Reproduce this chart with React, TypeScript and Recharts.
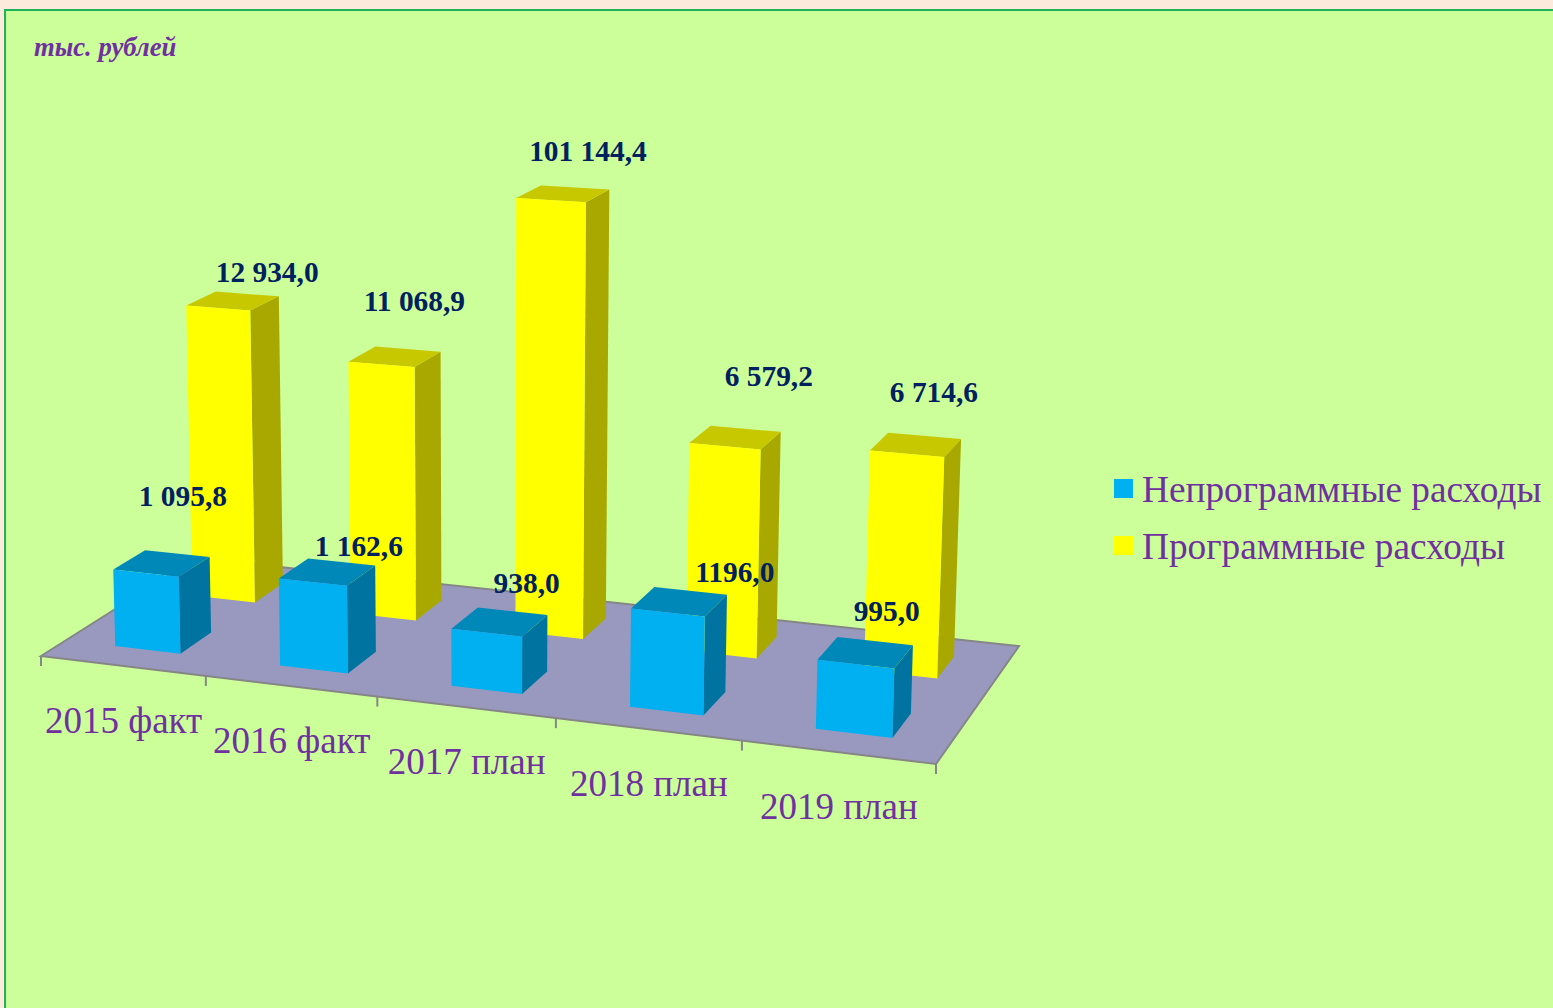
import { Bar, BarChart, Customized, LabelList, Legend, XAxis, YAxis } from "recharts";

const W = 1553;
const H = 1008;

const categories = ["2015 факт", "2016 факт", "2017 план", "2018 план", "2019 план"];

// bar heights: the source chart does not draw them
// in proportion to the printed values, so the printed values are kept apart
const programHeights = [313, 267.5, 447.5, 213.6, 222];
const otherHeights = [80, 89.5, 57.7, 97.5, 67.2];
const programLabels = ["12 934,0", "11 068,9", "101 144,4", "6 579,2", "6 714,6"];
const otherLabels = ["1 095,8", "1 162,6", "938,0", "1196,0", "995,0"];

// hand placed labels in the source, offset from the top of each bar's front face
const programNudge = [[49, -36], [33, -63], [37, -49], [44, -70], [27, -62]];
const otherNudge = [[37, -77], [46, -36], [40, -50], [67, -40], [31, -53]];

const data = categories.map((name, i) => ({
  name,
  program: programHeights[i],
  other: otherHeights[i],
  programLabel: programLabels[i],
  otherLabel: otherLabels[i]
}));

const PURPLE = "#7030A0";
const NAVY = "#002060";
const SERIF = "'Liberation Serif', serif";

const BACK_DEPTH: [number, number] = [0.65, 0.85];
const FRONT_DEPTH: [number, number] = [0.15, 0.35];
const BAR_SHIFT = 0.0012;

// flat chart coordinates -> the tilted floor of the picture
// u along categories, v into the depth, w height in px
function project(u: number, v: number, w: number) {
  const den = -0.09696 * u + 0.09726 * v + 1 - w / 15000;
  const x = (804.25 * u + 174.06 * v + 41 - (488 / 15000) * w) / den;
  const y = (33.92 * u - 43.73 * v + 656 - w) / den;
  return [x, y];
}

function points(list: number[][]) {
  return list.map((p) => p.join(",")).join(" ");
}

function makeBar(depth: [number, number], face: string, top: string, side: string) {
  return function Box3D(props: any) {
    const { x, width, height } = props;
    const u0 = x / W + BAR_SHIFT;
    const u1 = (x + width) / W + BAR_SHIFT;
    const [v0, v1] = depth;
    return (
      <g>
        <polygon
          points={points([project(u1, v0, 0), project(u1, v1, 0), project(u1, v1, height), project(u1, v0, height)])}
          fill={side}
        />
        <polygon
          points={points([project(u0, v0, height), project(u1, v0, height), project(u1, v1, height), project(u0, v1, height)])}
          fill={top}
        />
        <polygon
          points={points([project(u0, v0, 0), project(u1, v0, 0), project(u1, v0, height), project(u0, v0, height)])}
          fill={face}
        />
      </g>
    );
  };
}

function makeLabel(depth: number, nudge: number[][]) {
  return function BarLabel(props: any) {
    const { x, width, height, value, index } = props;
    const [px, py] = project((x + width / 2) / W + BAR_SHIFT, depth, height);
    return (
      <text
        x={px + nudge[index][0]}
        y={py + nudge[index][1] + 10}
        textAnchor="middle"
        fontFamily={SERIF}
        fontWeight="bold"
        fontSize={29.4}
        fill={NAVY}
      >
        {value}
      </text>
    );
  };
}

function Floor() {
  const ticks = [0, 0.2, 0.4, 0.6, 0.8, 1];
  return (
    <g>
      <polygon
        points={points([project(0, 0, 0), project(1, 0, 0), project(1, 1, 0), project(0, 1, 0)])}
        fill="#9999C0"
        stroke="#868686"
        strokeWidth={2}
      />
      {ticks.map((u) => {
        const [x, y] = project(u, 0, 0);
        return <line key={u} x1={x} y1={y} x2={x} y2={y + 10} stroke="#868686" strokeWidth={2} />;
      })}
    </g>
  );
}

function CategoryTick(props: any) {
  const { x, payload } = props;
  const [px, py] = project(x / W, 0, 0);
  return (
    <text x={px + 1} y={py + 67} textAnchor="middle" fontFamily={SERIF} fontSize={37} fill={PURPLE}>
      {payload.value}
    </text>
  );
}

function LegendBox(props: any) {
  return (
    <div>
      {props.payload.map((item: any) => (
        <div key={item.value} style={{ display: "flex", alignItems: "center", height: 57 }}>
          <div style={{ width: 19, height: 19, background: item.color, marginRight: 9 }} />
          <span style={{ fontFamily: SERIF, fontSize: 37.3, color: PURPLE, whiteSpace: "nowrap", position: "relative", top: 1 }}>
            {item.value}
          </span>
        </div>
      ))}
    </div>
  );
}

const barW = (W / categories.length) * 0.4;

export default function App() {
  return (
    <div style={{ position: "fixed", left: 0, top: 0, width: W, height: H, background: "#FCEBDD", overflow: "hidden" }}>
      <div
        style={{
          position: "absolute",
          left: 4,
          top: 9,
          width: W + 10,
          height: H + 10,
          boxSizing: "border-box",
          background: "#CCFF99",
          border: "2px solid #1DB35A"
        }}
      />
      <div style={{ position: "absolute", left: 0, top: 0 }}>
        <BarChart
          width={W}
          height={H}
          data={data}
          margin={{ top: 0, right: 0, bottom: 0, left: 0 }}
          barSize={barW}
          barGap={-barW}
        >
          <Customized component={Floor} />
          <XAxis dataKey="name" height={1} axisLine={false} tickLine={false} interval={0} tick={CategoryTick} />
          <YAxis hide domain={[0, H - 1]} />
          <Legend
            layout="vertical"
            align="center"
            verticalAlign="middle"
            wrapperStyle={{ left: 1114, top: 460, width: 439 }}
            content={LegendBox}
          />
          <Bar
            dataKey="program"
            name="Программные расходы"
            fill="#FFFF00"
            isAnimationActive={false}
            shape={makeBar(BACK_DEPTH, "#FFFF00", "#C8C800", "#A8A800")}
          >
            <LabelList dataKey="programLabel" content={makeLabel(0.65, programNudge)} />
          </Bar>
          <Bar
            dataKey="other"
            name="Непрограммные расходы"
            fill="#00B0F0"
            isAnimationActive={false}
            shape={makeBar(FRONT_DEPTH, "#00B0F0", "#0088B8", "#0073A0")}
          >
            <LabelList dataKey="otherLabel" content={makeLabel(0.15, otherNudge)} />
          </Bar>
        </BarChart>
      </div>
      <div
        style={{
          position: "absolute",
          left: 34,
          top: 32,
          fontFamily: SERIF,
          fontWeight: "bold",
          fontStyle: "italic",
          fontSize: 26.7,
          color: PURPLE,
          whiteSpace: "nowrap"
        }}
      >
        тыс. рублей
      </div>
    </div>
  );
}
